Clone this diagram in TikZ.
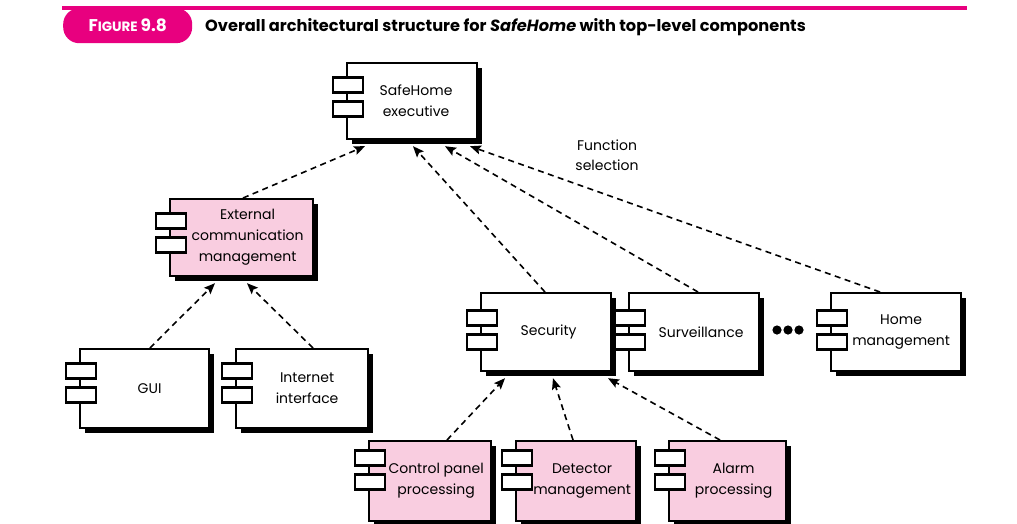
\documentclass[tikz,border=0pt]{standalone}
\usepackage{fontspec}
\setmainfont{Poppins}
\usetikzlibrary{shadows,arrows.meta}
\definecolor{mag}{RGB}{232,0,127}
\definecolor{lpink}{RGB}{249,205,224}
\tikzset{
  comp/.style={draw=black, line width=2.2pt, fill=white, align=center,
    inner sep=0pt, anchor=north west, font=\fontsize{14}{21}\selectfont,
    drop shadow={shadow xshift=5pt, shadow yshift=-5pt, fill=black, opacity=1}},
  port/.style={draw=black, line width=2.2pt, fill=white, minimum width=30pt,
    minimum height=15pt, inner sep=0pt},
  dep/.style={line width=1.6pt, dash pattern=on 6pt off 4.5pt,
    -{Stealth[length=11pt,width=9pt,inset=2pt]}},
}
% name, left, top, width, height, fill, text, port offset from top
\newcommand\mycomp[8]{%
  \node[comp, fill=#6, minimum width=#4pt, minimum height=#5pt] (#1) at (#2,#3) {#7};
  \node[port] (#1-p1) at ([xshift=2pt,yshift=-#8pt]#1.north west) {};
  \node[port] (#1-p2) at ([xshift=2pt,yshift=-#8pt-24pt]#1.north west) {};
}
\begin{document}
\begin{tikzpicture}[x=1pt,y=-1pt]
\useasboundingbox (0,0) rectangle (1017,523);
% header
\draw[mag, line width=3.8pt] (62,8) -- (967,8);
\node[fill=mag, rounded corners=16pt, minimum width=129pt, minimum height=35pt,
  inner sep=0pt, anchor=north west, text=white,
  font=\bfseries\fontsize{17}{17}\selectfont] (fig) at (63,8)
  {F\fontsize{13.5}{13.5}\selectfont IGURE\ \fontsize{17}{17}\selectfont 9.8};
\node[anchor=base west, inner sep=0pt, font=\bfseries\fontsize{16.2}{18}\selectfont] (title)
  at (205,31) {Overall architectural structure for \textit{SafeHome} with top-level components};
% components
\mycomp{exec}{346}{62}{130}{76}{white}{\hspace*{8pt}SafeHome\\\hspace*{8pt}executive}{23}
\mycomp{ecm}{169}{198}{143}{77}{lpink}{\hspace*{12pt}External\\\hspace*{12pt}communication\\\hspace*{12pt}management}{23}
\mycomp{gui}{79}{348}{129}{79}{white}{\hspace*{10pt}GUI}{23}
\mycomp{inet}{235}{348}{132}{79}{white}{\hspace*{10pt}Internet\\\hspace*{10pt}interface}{23}
\mycomp{sec}{480}{292}{130}{78}{white}{\hspace*{5pt}Security}{26}
\mycomp{surv}{628}{292}{130}{78}{white}{\hspace*{14pt}Surveillance}{26}
\mycomp{home}{830}{292}{130}{78}{white}{\hspace*{10pt}Home\\\hspace*{10pt}management}{26}
\mycomp{cpp}{368}{440}{122}{80}{lpink}{\hspace*{12pt}Control panel\\\hspace*{12pt}processing}{18}
\mycomp{det}{515}{440}{120}{80}{lpink}{\hspace*{12pt}Detector\\\hspace*{12pt}management}{18}
\mycomp{alarm}{668}{440}{117}{80}{lpink}{\hspace*{12pt}Alarm\\\hspace*{12pt}processing}{18}
% dots
\foreach \x in {777,788,799} \fill (\x,330) circle (4.6pt);
% label
\node[align=center, inner sep=0pt, font=\fontsize{14}{20}\selectfont] (fsel) at (607,155) {Function\\selection};
% dependencies
\draw[dep] ([xshift=74pt]ecm.north west) -- ([xshift=19pt,yshift=-6pt]exec.south west);
\draw[dep] ([xshift=65pt]sec.north west) -- ([xshift=67pt,yshift=-6pt]exec.south west);
\draw[dep] ([xshift=70pt]surv.north west) -- ([xshift=99pt,yshift=-6pt]exec.south west);
\draw[dep] ([xshift=50pt]home.north west) -- ([xshift=124pt,yshift=-6pt]exec.south west);
\draw[dep] ([xshift=71pt]gui.north west) -- ([xshift=46pt,yshift=-6pt]ecm.south west);
\draw[dep] ([xshift=78pt]inet.north west) -- ([xshift=78pt,yshift=-6pt]ecm.south west);
\draw[dep] ([xshift=79pt]cpp.north west) -- ([xshift=25pt,yshift=-6pt]sec.south west);
\draw[dep] ([xshift=58pt]det.north west) -- ([xshift=73pt,yshift=-6pt]sec.south west);
\draw[dep] ([xshift=52pt]alarm.north west) -- ([xshift=128pt,yshift=-6pt]sec.south west);
\end{tikzpicture}
\end{document}
